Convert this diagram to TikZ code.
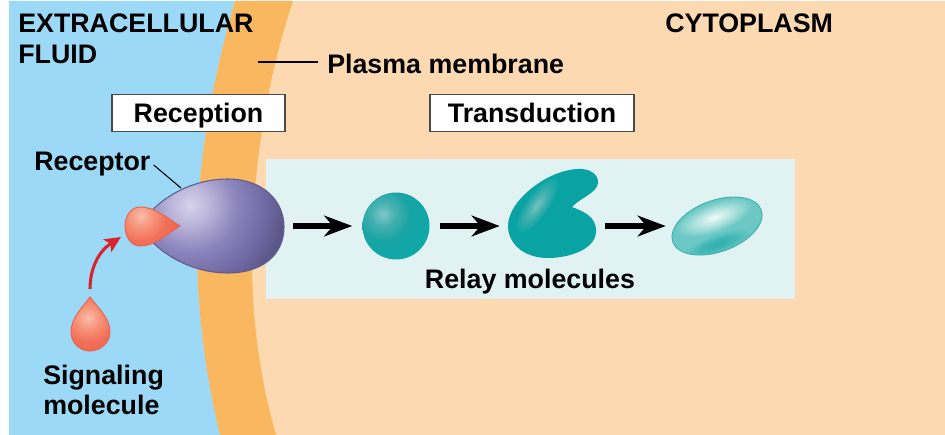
\documentclass[tikz,border=0pt]{standalone}
\usepackage{fontspec}
\setmainfont{Liberation Sans}
\usetikzlibrary{arrows.meta,calc}

\definecolor{fluidblue}{HTML}{9BD9F7}
\definecolor{cytoplasm}{HTML}{FDD9B1}
\definecolor{membrane}{HTML}{F9B75F}
\definecolor{relaypanel}{HTML}{E1F2F2}
\definecolor{recline}{HTML}{5E5E8E}
\definecolor{dropline}{HTML}{E9634E}
\definecolor{tealbase}{HTML}{0AA3A3}
\definecolor{leafline}{HTML}{3DB3AE}
\definecolor{leafbase}{HTML}{6CC8C4}
\definecolor{redarrow}{HTML}{D8232F}
\definecolor{boxline}{HTML}{4A4A4A}
% stops of the surface ramps
\definecolor{recA}{HTML}{D6D2EA}
\definecolor{recB}{HTML}{BEB8DC}
\definecolor{recC}{HTML}{8A82BA}
\definecolor{recD}{HTML}{7068A2}
\definecolor{recE}{HTML}{565280}
\definecolor{dropA}{HTML}{FABEAA}
\definecolor{dropB}{HTML}{F7947C}
\definecolor{dropC}{HTML}{F37058}
\definecolor{dropD}{HTML}{EE644E}
\definecolor{ballA}{HTML}{80C8C6}
\definecolor{ballB}{HTML}{46B0B0}
\definecolor{ballC}{HTML}{18A4A4}
\definecolor{ballD}{HTML}{08AAAA}
\definecolor{streakA}{HTML}{74C4C2}
\definecolor{streakB}{HTML}{46B2B0}
\definecolor{leafWhite}{HTML}{F0FAF8}
\definecolor{leafMid}{HTML}{B8E6E2}
\definecolor{leafDark}{HTML}{2FB0AC}

% radial colour ramps for the molecule surfaces; a shaded path reaches 25bp at its rim
\pgfdeclareradialshading{receptorramp}{\pgfpoint{0bp}{0bp}}{%
  color(0bp)=(recA);color(4.5bp)=(recB);color(12bp)=(recC);
  color(19bp)=(recD);color(25bp)=(recE);color(50bp)=(recE)}
\pgfdeclareradialshading{dropramp}{\pgfpoint{0bp}{0bp}}{%
  color(0bp)=(dropA);color(7bp)=(dropB);color(15bp)=(dropC);color(25bp)=(dropD);color(50bp)=(dropD)}
\pgfdeclareradialshading{ballramp}{\pgfpoint{0bp}{0bp}}{%
  color(0bp)=(ballA);color(5bp)=(ballB);color(11bp)=(ballC);color(25bp)=(ballD);color(50bp)=(ballD)}
\pgfdeclareradialshading{streakramp}{\pgfpoint{0bp}{0bp}}{%
  color(0bp)=(streakA);color(10bp)=(streakB);color(25bp)=(tealbase);color(50bp)=(tealbase)}
\pgfdeclareradialshading{leafglow}{\pgfpoint{0bp}{0bp}}{%
  color(0bp)=(leafWhite);color(11bp)=(leafMid);color(25bp)=(leafbase);color(50bp)=(leafbase)}
\pgfdeclareradialshading{leafshadow}{\pgfpoint{0bp}{0bp}}{%
  color(0bp)=(leafDark);color(12bp)=(leafDark!70!leafbase);color(25bp)=(leafbase);color(50bp)=(leafbase)}

\tikzset{
  x=0.75pt, y=-0.75pt,
  txt/.style={font=\bfseries\fontsize{20.1pt}{23pt}\selectfont, inner sep=0pt, text=black},
  stagebox/.style={txt, draw=boxline, line width=0.9pt, fill=white, minimum height=27.75pt,
    text height=14.5pt, text depth=0pt, anchor=center},
  leader/.style={draw=black, line width=0.8pt},
  relayarrow/.style={draw=black, line width=4.4pt,
    -{Stealth[length=21pt,width=15.5pt,inset=6.5pt]}, shorten <=6.75pt, shorten >=6.75pt},
  marker/.style={inner sep=0pt, minimum size=0pt},
}

\begin{document}
\begin{tikzpicture}
\useasboundingbox (0,0) rectangle (945,435);
\fill[white] (0,0) rectangle (945,435);

% compartments of the cell edge
\fill[cytoplasm] (9,1) rectangle (945,435);
\fill[fluidblue] (9,1) -- (235,1)
  .. controls (218,60) and (197,150) .. (197,245)
  .. controls (197,320) and (208,385) .. (220,435) -- (9,435) -- cycle;
\fill[membrane] (235,1) -- (293,1)
  .. controls (270,70) and (252,160) .. (252,260)
  .. controls (252,330) and (263,390) .. (276,435) -- (220,435)
  .. controls (208,385) and (197,320) .. (197,245)
  .. controls (197,150) and (218,60) .. (235,1) -- cycle;

% panel behind the relay chain
\fill[relaypanel] (266,159) rectangle (795,299);

% receptor
\def\receptorpath{(140,226) .. controls (155,200) and (190,179) .. (228,179)
  .. controls (262,179) and (284,200) .. (284,227)
  .. controls (284,255) and (262,273) .. (228,273)
  .. controls (190,273) and (155,252) .. (140,226) -- cycle}
\begin{scope}
  \clip \receptorpath;
  \shade[shading=receptorramp] (190,205) circle (100);
\end{scope}
\draw[recline, line width=0.8pt] \receptorpath;
\node[marker, minimum width=108pt, minimum height=70.5pt] (receptorbody) at (212,226) {};

% signaling molecule bound to the receptor
\def\boundpath{(180,226) .. controls (165,217) and (155,207) .. (140,207)
  .. controls (131,207) and (125,216) .. (125,226)
  .. controls (125,237) and (131,246) .. (140,246)
  .. controls (155,246) and (165,235) .. (180,226) -- cycle}
\begin{scope}
  \clip \boundpath;
  \shade[shading=dropramp] (141,216) circle (42);
\end{scope}
\draw[dropline, line width=0.7pt] \boundpath;

% free signaling molecule
\def\droppath{(90,297) .. controls (82,308) and (71,318) .. (71,332)
  .. controls (71,343) and (80,351) .. (90,351)
  .. controls (100,351) and (110,343) .. (110,332)
  .. controls (110,318) and (98,308) .. (90,297) -- cycle}
\begin{scope}
  \clip \droppath;
  \shade[shading=dropramp] (88,318) circle (40);
\end{scope}
\draw[dropline, line width=0.7pt] \droppath;

% first relay molecule
\begin{scope}
  \clip (396,226) circle (33.5);
  \shade[shading=ballramp] (383,214) circle (60);
\end{scope}
\node[marker, circle, minimum size=51.75pt] (relayone) at (396,226) {};

% second relay molecule
\def\kidneypath{(578,169) .. controls (590,168) and (599,175) .. (598,183)
  .. controls (597,193) and (580,198) .. (572,207)
  .. controls (582,211) and (597,216) .. (596,232)
  .. controls (595,250) and (568,258) .. (548,258)
  .. controls (523,258) and (508,243) .. (508,226)
  .. controls (508,200) and (548,170) .. (578,169) -- cycle}
\fill[tealbase] \kidneypath;
\begin{scope}
  \clip \kidneypath;
  \begin{scope}[transform canvas={rotate around={55:(537,205)}}]
    \shade[shading=streakramp] (537,205) ellipse (34 and 12);
  \end{scope}
\end{scope}
\node[marker, minimum width=65.25pt, minimum height=40pt] (relaytwo) at (552.5,226) {};

% third relay molecule
\def\leafpath{(717,226) ellipse [x radius=47, y radius=25.7, rotate=20]}
\begin{scope}
  \clip \leafpath;
  \fill[leafbase] (660,190) rectangle (775,262);
  \begin{scope}[transform canvas={rotate around={20:(717,226)}}]
    \shade[shading=leafshadow] (711,243) ellipse (36 and 10);
    \shade[shading=leafglow] (717,217) ellipse (40 and 15);
  \end{scope}
\end{scope}
\draw[leafline, line width=0.7pt] \leafpath;
\node[marker, minimum width=63pt, minimum height=40pt] (relaythree) at (717,226) {};

% arrows along the relay chain
\draw[relayarrow] (receptorbody.east) -- (relayone.west);
\draw[relayarrow] (relayone.east) -- (relaytwo.west);
\draw[relayarrow] (relaytwo.east) -- (relaythree.west);

% arrow from the free molecule towards the receptor
\coordinate (bindstart) at (90,289);
\coordinate (bindend) at (121,237);
\draw[draw=redarrow, line width=2.3pt, -{Stealth[length=12pt,width=11pt,inset=2.5pt]}]
  (bindstart) .. controls (90,268) and (99,251) .. (bindend);

% stage labels
\node[stagebox, minimum width=129.75pt] (reception) at (198.5,113) {Reception};
\node[stagebox, minimum width=153pt] (transduction) at (532,113) {Transduction};

% region and part labels
\node[txt, anchor=base west] (fluidA) at (18,33) {EXTRACELLULAR};
\node[txt, anchor=base west] (fluidB) at (18,64) {FLUID};
\node[txt, anchor=base west] (cyto) at (665,33) {CYTOPLASM};
\node[txt, anchor=base west] (plasma) at (327,74) {Plasma membrane};
\node[txt, anchor=base west] (receptor) at (34,170) {Receptor};
\node[txt, anchor=base west] (signalA) at (43,384) {Signaling};
\node[txt, anchor=base west] (signalB) at (43,414) {molecule};
\node[txt, anchor=base] (relaylabel) at (530,288) {Relay molecules};

% leader lines
\coordinate (plasmaend) at (258,62);
\coordinate (receptorend) at (181,188);
\draw[leader] ($(plasma.base west)+(-9,-12)$) -- (plasmaend);
\draw[leader] ($(receptor.base east)+(3,-5)$) -- (receptorend);
\end{tikzpicture}
\end{document}
